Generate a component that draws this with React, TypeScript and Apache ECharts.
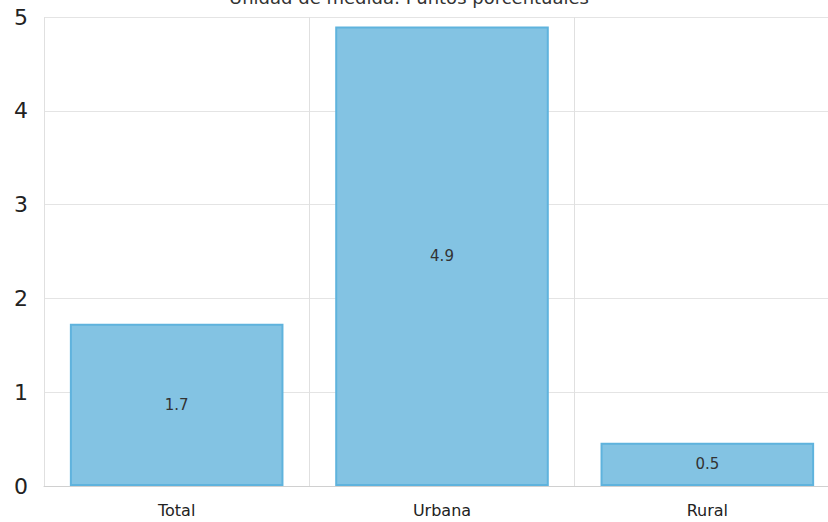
import React, { useEffect, useRef } from "react";
import * as echarts from "echarts";

const categories = ["Total", "Urbana", "Rural"];
const values = [1.73, 4.9, 0.46];
const yTicks = [0, 1, 2, 3, 4, 5];
const subtitle = "Unidad de medida: Puntos porcentuales";

const FONT = "'DejaVu Sans'";

export default function App() {
  const ref = useRef<HTMLDivElement>(null);
  useEffect(() => {
    if (!ref.current) return;
    const chart = echarts.init(ref.current, undefined, { renderer: "svg" });
    chart.setOption({
      animation: false,
      textStyle: { fontFamily: "DejaVu Sans" },
      graphic: [
        {
          type: "text",
          x: 409,
          y: 6,
          z: 10,
          style: {
            text: subtitle,
            fill: "#333",
            font: `18px ${FONT}`,
            textAlign: "center",
            textVerticalAlign: "bottom",
          },
        },
      ],
      grid: {
        left: 44,
        width: 796,
        top: 17,
        bottom: 36,
        containLabel: false,
        outerBoundsMode: "none",
      },
      xAxis: {
        type: "category",
        data: categories,
        boundaryGap: true,
        axisLine: { show: true, lineStyle: { color: "#d0d0d0", width: 1 } },
        axisTick: { show: false },
        axisLabel: { color: "#222", fontSize: 16, margin: 16 },
        splitLine: { show: true, lineStyle: { color: "#e0e0e0", width: 1 } },
      },
      yAxis: {
        type: "value",
        min: yTicks[0],
        max: yTicks[yTicks.length - 1],
        interval: 1,
        axisLine: { show: false },
        axisTick: { show: false },
        axisLabel: { color: "#222", fontSize: 22, margin: 16 },
        splitLine: { show: true, lineStyle: { color: "#e4e4e4", width: 1 } },
      },
      series: [
        {
          type: "bar",
          data: values,
          barWidth: "80.5%",
          itemStyle: {
            color: "#83c3e3",
            borderColor: "#5fb3dd",
            borderWidth: 2,
          },
          label: {
            show: true,
            position: "inside",
            color: "#333",
            fontSize: 15,
            formatter: (p: any) => Number(p.value).toFixed(1),
          },
        },
      ],
    });
    return () => chart.dispose();
  }, []);
  return (
    <div
      ref={ref}
      style={{ position: "fixed", left: 0, top: 0, width: 828, height: 522, background: "#fff", overflow: "hidden" }}
    />
  );
}
